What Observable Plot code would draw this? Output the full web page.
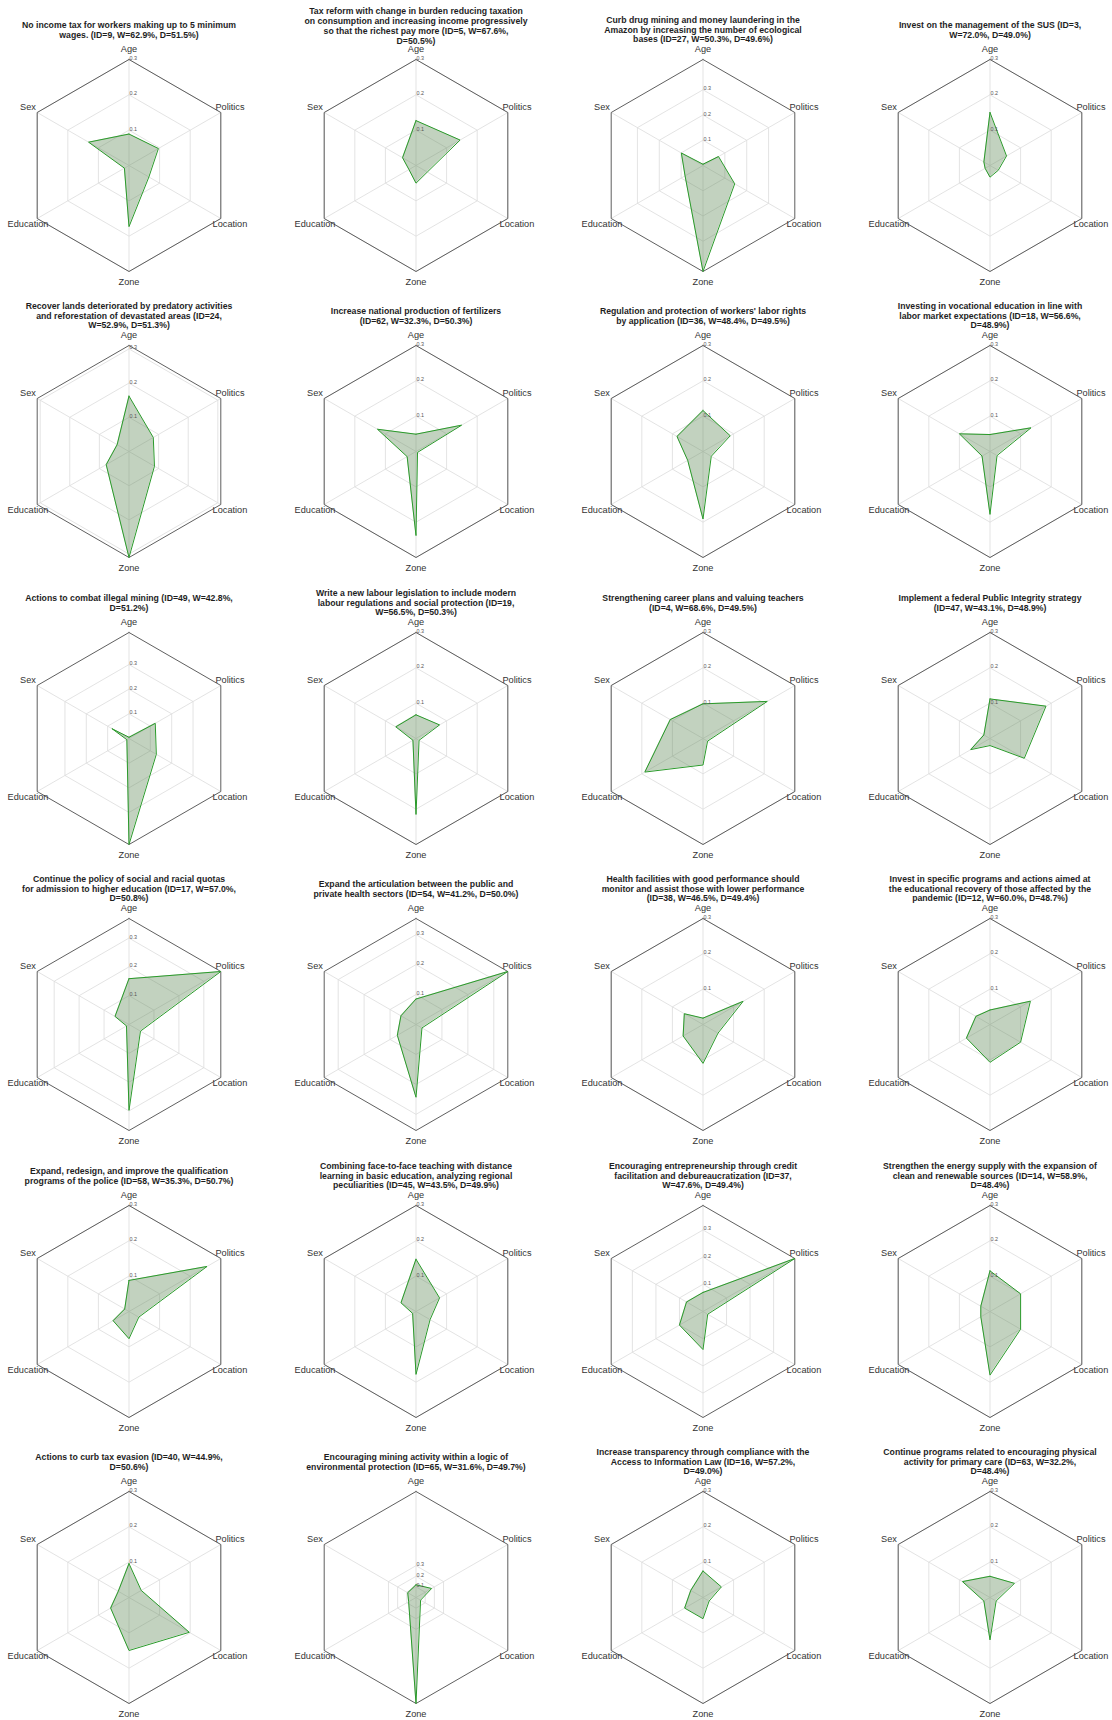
<!DOCTYPE html>
<html><head><meta charset="utf-8">
<script src="https://cdn.jsdelivr.net/npm/d3@7"></script>
<script src="https://cdn.jsdelivr.net/npm/@observablehq/plot@0.6"></script>
<style>
body{margin:0;background:#fff;}
#wrap{position:relative;width:1112px;height:1720px;overflow:hidden;background:#fff;}
#wrap svg{position:absolute;overflow:visible;}
</style></head><body><div id="wrap"></div>
<script>
// ---- data ----
const dims = ["Age", "Politics", "Location", "Zone", "Education", "Sex"];
const rTicks = [0.1, 0.2, 0.3];
const titles = [
  "No income tax for workers making up to 5 minimum\nwages. (ID=9, W=62.9%, D=51.5%)",
  "Tax reform with change in burden reducing taxation\non consumption and increasing income progressively\nso that the richest pay more (ID=5, W=67.6%,\nD=50.5%)",
  "Curb drug mining and money laundering in the\nAmazon by increasing the number of ecological\nbases (ID=27, W=50.3%, D=49.6%)",
  "Invest on the management of the SUS (ID=3,\nW=72.0%, D=49.0%)",
  "Recover lands deteriorated by predatory activities\nand reforestation of devastated areas (ID=24,\nW=52.9%, D=51.3%)",
  "Increase national production of fertilizers\n(ID=62, W=32.3%, D=50.3%)",
  "Regulation and protection of workers' labor rights\nby application (ID=36, W=48.4%, D=49.5%)",
  "Investing in vocational education in line with\nlabor market expectations (ID=18, W=56.6%,\nD=48.9%)",
  "Actions to combat illegal mining (ID=49, W=42.8%,\nD=51.2%)",
  "Write a new labour legislation to include modern\nlabour regulations and social protection (ID=19,\nW=56.5%, D=50.3%)",
  "Strengthening career plans and valuing teachers\n(ID=4, W=68.6%, D=49.5%)",
  "Implement a federal Public Integrity strategy\n(ID=47, W=43.1%, D=48.9%)",
  "Continue the policy of social and racial quotas\nfor admission to higher education (ID=17, W=57.0%,\nD=50.8%)",
  "Expand the articulation between the public and\nprivate health sectors (ID=54, W=41.2%, D=50.0%)",
  "Health facilities with good performance should\nmonitor and assist those with lower performance\n(ID=38, W=46.5%, D=49.4%)",
  "Invest in specific programs and actions aimed at\nthe educational recovery of those affected by the\npandemic (ID=12, W=60.0%, D=48.7%)",
  "Expand, redesign, and improve the qualification\nprograms of the police (ID=58, W=35.3%, D=50.7%)",
  "Combining face-to-face teaching with distance\nlearning in basic education, analyzing regional\npeculiarities (ID=45, W=43.5%, D=49.9%)",
  "Encouraging entrepreneurship through credit\nfacilitation and debureaucratization (ID=37,\nW=47.6%, D=49.4%)",
  "Strengthen the energy supply with the expansion of\nclean and renewable sources (ID=14, W=58.9%,\nD=48.4%)",
  "Actions to curb tax evasion (ID=40, W=44.9%,\nD=50.6%)",
  "Encouraging mining activity within a logic of\nenvironmental protection (ID=65, W=31.6%, D=49.7%)",
  "Increase transparency through compliance with the\nAccess to Information Law (ID=16, W=57.2%,\nD=49.0%)",
  "Continue programs related to encouraging physical\nactivity for primary care (ID=63, W=32.2%,\nD=48.4%)"
];
const ageVals       = [0.089, 0.127, 0.005, 0.150, 0.162, 0.049, 0.116, 0.048, 0.005, 0.067, 0.098, 0.112, 0.159, 0.085, 0.018, 0.041, 0.088, 0.148, 0.070, 0.115, 0.096, 0.120, 0.075, 0.060];
const politicsVals  = [0.096, 0.144, 0.071, 0.054, 0.082, 0.149, 0.089, 0.134, 0.123, 0.077, 0.210, 0.183, 0.368, 0.354, 0.131, 0.132, 0.255, 0.077, 0.390, 0.100, 0.040, 0.170, 0.060, 0.080];
const locationVals  = [0.065, 0.037, 0.145, 0.027, 0.086, 0.005, 0.027, 0.023, 0.128, 0.010, 0.015, 0.112, 0.046, 0.023, 0.049, 0.100, 0.032, 0.046, 0.020, 0.100, 0.197, 0.050, 0.020, 0.020];
const zoneVals      = [0.173, 0.050, 0.420, 0.033, 0.310, 0.238, 0.191, 0.178, 0.430, 0.215, 0.075, 0.020, 0.298, 0.243, 0.110, 0.107, 0.077, 0.178, 0.140, 0.180, 0.150, 1.000, 0.060, 0.120];
const educationVals = [0.015, 0.023, 0.082, 0.016, 0.077, 0.029, 0.050, 0.026, 0.010, 0.010, 0.190, 0.063, 0.010, 0.072, 0.065, 0.077, 0.052, 0.011, 0.100, 0.030, 0.060, 0.080, 0.060, 0.020];
const sexVals       = [0.132, 0.044, 0.099, 0.020, 0.040, 0.126, 0.085, 0.100, 0.080, 0.066, 0.107, 0.020, 0.056, 0.058, 0.061, 0.046, 0.014, 0.049, 0.070, 0.030, 0.035, 0.090, 0.040, 0.090];
const series = [ageVals, politicsVals, locationVals, zoneVals, educationVals, sexVals];

// ---- layout ----
const W = 287, H = 287, CX = 143.5, CY = 161, R = 106;
const colX0 = 128, colStep = 287, rowY0 = 164.5, rowStep = 286.5;
const wrap = document.getElementById("wrap");
const ang = i => i * Math.PI / 3;
const polar = (r, i) => ({x: r * Math.sin(ang(i)), y: r * Math.cos(ang(i))});

titles.forEach((title, c) => {
  const vals = dims.map((dim, i) => ({dim, i, v: series[i][c]}));
  const rmax = Math.max(0.3, d3.max(vals, d => d.v));
  const k = R / rmax;
  const pts = [...vals, vals[0]].map(d => ({...d, ...polar(d.v, d.i)}));
  const rings = rTicks.flatMap(t => [0, 1, 2, 3, 4, 5, 0].map(i => ({t, ...polar(t, i)})));
  const outer = [0, 1, 2, 3, 4, 5, 0].map(i => polar(rmax, i));
  const spokes = dims.map((dim, i) => ({dim, ...polar(rmax, i)}));
  const labels = dims.map((dim, i) => ({dim, ...polar(rmax * 1.1, i)}));
  const nLines = title.split("\n").length;
  const titleY = (136 + Math.max(0, nLines - 3) * 3.5) / k;

  const svg = Plot.plot({
    width: W, height: H,
    marginTop: 0, marginRight: 0, marginBottom: 0, marginLeft: 0,
    x: {domain: [-CX / k, (W - CX) / k], range: [0, W], axis: null},
    y: {domain: [-(H - CY) / k, CY / k], range: [H, 0], axis: null},
    style: {fontFamily: "'Liberation Sans', Arial, sans-serif", background: "transparent", overflow: "visible"},
    marks: [
      Plot.line(rings, {x: "x", y: "y", z: "t", stroke: "#dcdcdc", strokeWidth: 0.8}),
      Plot.link(spokes, {x1: 0, y1: 0, x2: "x", y2: "y", stroke: "#dcdcdc", strokeWidth: 0.8}),
      Plot.line(outer, {x: "x", y: "y", stroke: "#4d4d4d", strokeWidth: 0.9}),
      Plot.area(pts, {x1: "x", y1: "y", x2: 0, y2: 0, fill: "#5f8a58", fillOpacity: 0.38}),
      Plot.line(pts, {x: "x", y: "y", stroke: "#2a9a2a", strokeWidth: 1}),
      Plot.text(rTicks, {x: 0, y: d => d, text: d => d.toFixed(1), textAnchor: "start", lineAnchor: "bottom", dx: 0.5, dy: 0.5, fontSize: 5.4, fill: "#555"}),
      Plot.text(labels, {x: "x", y: "y", text: "dim", textAnchor: "middle", lineAnchor: "middle", fontSize: 9.2, fill: "#333"}),
      Plot.text([title], {x: 0, y: titleY, text: d => d, textAnchor: "middle", lineAnchor: "middle", fontSize: 8.7, lineHeight: 1.13, fontWeight: "bold", fill: "#1e1e1e"})
    ]
  });
  const col = c % 4, row = Math.floor(c / 4);
  svg.style.left = (colX0 + colStep * col - CX) + "px";
  svg.style.top = (rowY0 + rowStep * row - CY) + "px";
  wrap.appendChild(svg);
});
</script>
</body></html>
